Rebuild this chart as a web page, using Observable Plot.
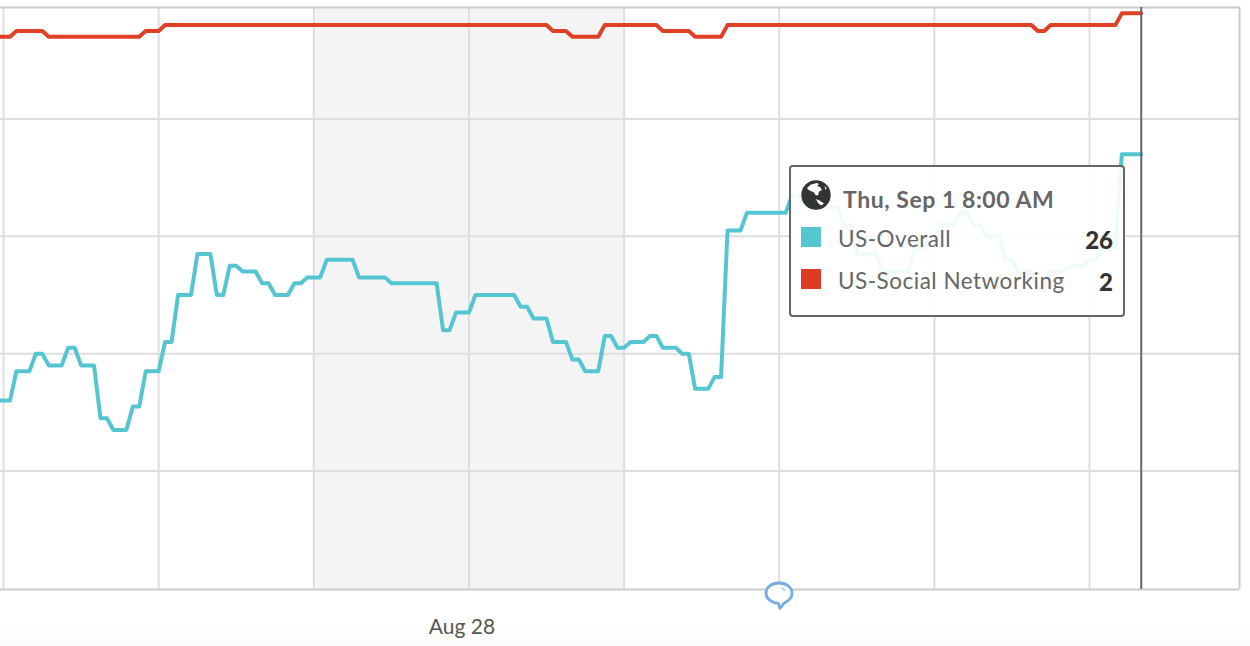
<!DOCTYPE html>
<html>
<head>
<meta charset="utf-8">
<script src="https://cdn.jsdelivr.net/npm/d3@7"></script>
<script src="https://cdn.jsdelivr.net/npm/@observablehq/plot@0.6"></script>
<style>
  html,body{margin:0;padding:0;width:1250px;height:646px;overflow:hidden;background:linear-gradient(#fff 0,#fff 615px,#fcfcfc 646px);font-family:Lato,"Noto Sans",sans-serif}
  #chart svg{display:block;background:transparent}
  #tip{position:absolute;left:789px;top:165px;width:332px;height:148px;border:2px solid #666;border-radius:4px;background:rgba(255,255,255,.91);color:#666}
  #tip .t{position:absolute;white-space:nowrap;line-height:1}
  #tip .s{position:absolute;width:20px;height:20px}
  #bubble{position:absolute;left:763px;top:580px}
</style>
</head>
<body>
<div id="chart"></div>
<svg id="bubble" width="32" height="32" viewBox="0 0 32 32">
  <path d="M16 3c7.400 0 13 4.300 13 10.200 0 4.300-3.200 7.600-8 10L17 28.500l-1.800-5.200C8.500 22.500 3 18.800 3 13.200 3 7.300 8.600 3 16 3z" fill="#fff" stroke="#76ace3" stroke-width="2.800" stroke-linejoin="round"/>
  <path d="M18.500 7.500l3.500 3.200" stroke="#b5d0ee" stroke-width="2" fill="none"/>
</svg>
<div id="tip">
  <svg style="position:absolute;left:10px;top:13px" width="30" height="30" viewBox="0 0 30 30">
    <circle cx="15" cy="15" r="14.700" fill="#333"/>
    <path d="M6 8l4-3.500 6-1.500 2 1-2 2 3 1 2 3-3 1.500-1 4-2.500-.5-2-3-3-1-2.500-1.500z" fill="#fff"/>
    <path d="M15 19l3.500 1.500 4.500 3-3 2-3-2.500z" fill="#fff"/>
    <path d="M23.500 6l2 2-1 2z" fill="#fff"/>
  </svg>
  <div class="t" id="tipTitle" style="left:52px;top:21px;font-size:23px;font-weight:700;letter-spacing:.55px"></div>
  <div class="s" id="sq0" style="left:10px;top:60px"></div>
  <div class="t" id="name0" style="left:47px;top:61px;font-size:22.500px;letter-spacing:.5px"></div>
  <div class="t" id="val0" style="right:10px;top:61px;font-size:24px;font-weight:900;color:#333"></div>
  <div class="s" id="sq1" style="left:10px;top:102px"></div>
  <div class="t" id="name1" style="left:47px;top:103px;font-size:22.500px;letter-spacing:.5px"></div>
  <div class="t" id="val1" style="right:10px;top:103px;font-size:24px;font-weight:900;color:#333"></div>
</div>
<script>
// Hourly rank values, first reading is 23:00 on Aug 24 (UTC)
const firstHour = new Date(Date.UTC(2016, 7, 24, 23));
const overall = [
  68, 68,68, 63,63,63, 60,60, 62,62,62, 59,59, 62,62,62, 71,71, 73,73,73, 69,69,
  63,63,63, 58,58, 50,50,50, 43,43,43, 50,50, 45,45, 46,46,46, 48,48, 50,50,50, 48,48, 47,47,47,
  44,44,44,44,44, 47,47,47,47,47, 48,48,48,48,48,48,48,48,
  56,56, 53,53,53, 50,50,50,50,50,50,50, 52,52, 54,54,54, 58,58,58, 61,61, 63,63,63,
  57,57, 59,59, 58,58,58, 57,57, 59,59,59, 60,60, 66,66,66, 64,64,
  39,39,39, 36,36,36,36,36,36,36, 33,33, 35,35,35,35,35,35, 38,38, 43,43,43,43,
  46,46,46,46,46, 42,42, 41,41, 38,38,38, 36,36, 38,38, 40,40,40, 44,44, 46,46,46,
  49,49, 46,46,46, 45,45,45, 44,44, 42,42,42, 26,26,26,26
];
const social = [
  6, 6,6, 5,5,5,5,5,
  6,6,6,6,6,6,6,6,6,6,6,6,6,6,6, 5,5,5,
  4,4,4,4,4,4,4,4,4,4, 4,4,4,4,4,4,4,4,4,4, 4,4,4,4,4,4,4,4,4,4,
  4,4,4,4,4,4,4,4,4,4, 4,4,4,4,4,4,4,4,4,4, 4,4,4,4,4,4,4,4,4,4,
  5,5,5, 6,6,6,6,6, 4,4,4,4,4,4,4,4,4, 5,5,5,5,5, 6,6,6,6,6,
  4,4,4,4,4,4,4,4,4,4, 4,4,4,4,4,4,4,4,4,4, 4,4,4,4,4,4,4,4,4,4,
  4,4,4,4,4,4,4,4,4,4, 4,4,4,4,4,4,4,4,
  5,5, 4,4,4,4,4,4,4,4,4,4,4, 2,2,2,2
];
const hours = overall.map((_, i) => d3.utcHour.offset(firstHour, i));
const yGrid = [20, 40, 60, 80];
const yFrame = [1, 100.2];
const dayTicks = d3.range(25, 32).map(d => new Date(Date.UTC(2016, 7, d))).concat([new Date(Date.UTC(2016, 8, 1))]);
const weekend = [{a: new Date(Date.UTC(2016, 7, 27)), b: new Date(Date.UTC(2016, 7, 29))}];
const labelDay = [new Date(Date.UTC(2016, 7, 28))];
const cursor = [new Date(Date.UTC(2016, 8, 1, 8))];
const xStart = new Date(Date.UTC(2016, 7, 24, 23, 32));
const xEnd = new Date(Date.UTC(2016, 8, 1, 23, 12));
const colors = {overall: "#55c5d2", social: "#e04026"};
const tipTitle = "Thu, Sep 1 8:00 AM";
const tipRows = [["US-Overall", 26, "#55c5d2"], ["US-Social Networking", 2, "#dd3c22"]];

const rows = hours.map((t, i) => ({t, overall: overall[i], social: social[i]}));

const chart = Plot.plot({
  width: 1250,
  height: 646,
  marginLeft: 0,
  marginRight: 11,
  marginTop: 7,
  marginBottom: 57,
  style: {background: "transparent", fontFamily: "Lato, 'Noto Sans', sans-serif"},
  x: {type: "utc", domain: [xStart, xEnd], range: [0, 1239]},
  y: {domain: yFrame, range: [7, 589], axis: null},
  marks: [
    Plot.rectX(weekend, {x1: "a", x2: "b", y1: yFrame[0], y2: yFrame[1], fill: "#f4f4f4"}),
    Plot.ruleY(yGrid, {stroke: "#dedede", strokeWidth: 2}),
    Plot.ruleX(dayTicks, {stroke: "#dedede", strokeWidth: 2}),
    Plot.ruleY(yFrame, {stroke: "#cccccc", strokeWidth: 2}),
    Plot.ruleX([xEnd], {stroke: "#cccccc", strokeWidth: 2}),
    Plot.line(rows, {x: "t", y: "social", stroke: colors.social, strokeWidth: 4, curve: "linear", clip: true}),
    Plot.line(rows, {x: "t", y: "overall", stroke: colors.overall, strokeWidth: 4, curve: "linear", clip: true}),
    Plot.ruleX(cursor, {stroke: "#666666", strokeWidth: 2}),
    Plot.axisX(labelDay, {anchor: "bottom", tickSize: 0, tickPadding: 30, dx: -7, fontSize: 21, fill: "#555", letterSpacing: ".4px", tickFormat: d3.utcFormat("%b %-d"), label: null})
  ]
});
document.getElementById("chart").appendChild(chart);

document.getElementById("tipTitle").textContent = tipTitle;
tipRows.forEach((r, i) => {
  document.getElementById("name" + i).textContent = r[0];
  document.getElementById("val" + i).textContent = r[1];
  document.getElementById("sq" + i).style.background = r[2];
});
</script>
</body>
</html>
